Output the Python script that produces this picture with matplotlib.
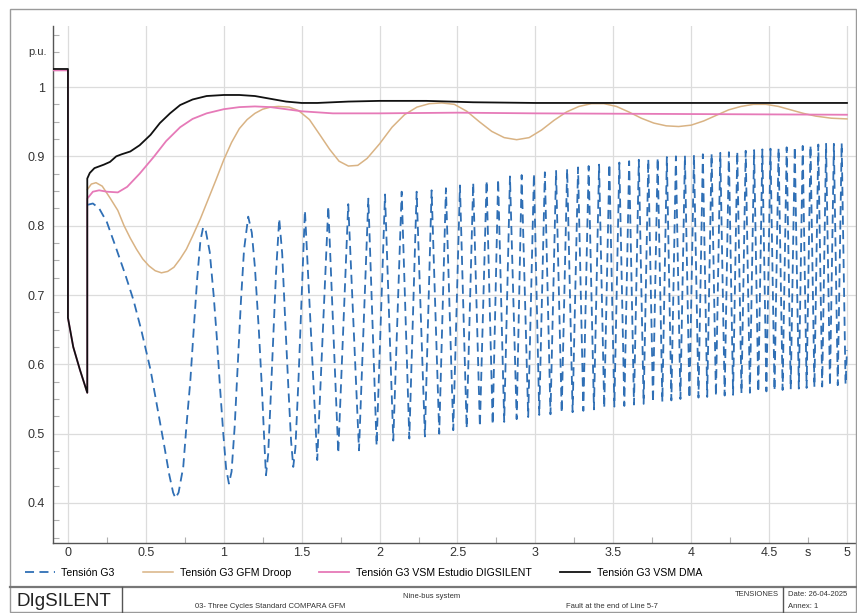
import matplotlib
matplotlib.use('Agg')
import matplotlib.pyplot as plt
from matplotlib.lines import Line2D
from matplotlib.patches import Rectangle
import matplotlib.transforms as mtrans
from matplotlib.ticker import MultipleLocator

plt.rcParams['font.family'] = ['Liberation Sans', 'DejaVu Sans']

# ---------------- data ----------------
# Tension G3 VSM DMA (black)
black_t = [-0.1, 0.0, 0.0, 0.034, 0.077, 0.124, 0.124, 0.14, 0.17, 0.23, 0.27, 0.31, 0.345,
           0.40, 0.46, 0.53, 0.59, 0.655, 0.72, 0.80, 0.89, 1.0, 1.1, 1.2, 1.3, 1.4, 1.5,
           1.6, 1.8, 2.0, 2.3, 2.6, 3.0, 4.0, 5.0]
black_v = [1.026, 1.026, 0.667, 0.625, 0.592, 0.559, 0.868, 0.876, 0.883, 0.888, 0.892, 0.900, 0.903,
           0.907, 0.916, 0.931, 0.948, 0.962, 0.974, 0.982, 0.987, 0.9885, 0.9885, 0.987, 0.983, 0.979, 0.977,
           0.977, 0.979, 0.980, 0.980, 0.978, 0.977, 0.977, 0.977]

# Tension G3 VSM Estudio DIGSILENT (pink)
pink_t = [-0.1, 0.0, 0.0, 0.034, 0.077, 0.124, 0.124, 0.16, 0.20, 0.25, 0.32, 0.38, 0.46, 0.55,
          0.63, 0.72, 0.80, 0.89, 1.0, 1.1, 1.2, 1.3, 1.4, 1.5, 1.7, 2.0, 2.5, 3.0, 4.0, 5.0]
pink_v = [1.024, 1.024, 0.667, 0.625, 0.592, 0.559, 0.839, 0.849, 0.851, 0.849, 0.848, 0.856, 0.875, 0.899,
          0.922, 0.942, 0.954, 0.962, 0.968, 0.971, 0.972, 0.971, 0.968, 0.965, 0.962, 0.962, 0.963, 0.962, 0.961, 0.960]

# Tension G3 GFM Droop (tan)
tan_t = [0.124, 0.15, 0.18, 0.22, 0.27, 0.32, 0.36, 0.40, 0.44, 0.48, 0.52, 0.56, 0.60, 0.64, 0.68,
         0.72, 0.76, 0.80, 0.85, 0.90, 0.95, 1.00, 1.05, 1.10, 1.15, 1.20, 1.25, 1.30, 1.35, 1.42,
         1.48, 1.55, 1.62, 1.68, 1.74, 1.80, 1.86, 1.92, 2.00, 2.08, 2.16, 2.24, 2.32, 2.40, 2.48,
         2.56, 2.64, 2.72, 2.80, 2.88, 2.96, 3.04, 3.12, 3.20, 3.28, 3.36, 3.44, 3.52, 3.60, 3.68,
         3.76, 3.84, 3.92, 4.00, 4.08, 4.16, 4.24, 4.32, 4.40, 4.48, 4.56, 4.64, 4.72, 4.80, 4.90, 5.00]
tan_v = [0.852, 0.860, 0.862, 0.857, 0.840, 0.822, 0.800, 0.782, 0.766, 0.752, 0.742, 0.735, 0.732, 0.734, 0.740,
         0.752, 0.766, 0.785, 0.810, 0.838, 0.866, 0.895, 0.920, 0.940, 0.953, 0.962, 0.968, 0.971, 0.972, 0.971,
         0.966, 0.953, 0.930, 0.910, 0.893, 0.886, 0.887, 0.897, 0.918, 0.942, 0.960, 0.971, 0.976, 0.977, 0.975,
         0.965, 0.950, 0.936, 0.927, 0.924, 0.927, 0.938, 0.952, 0.964, 0.972, 0.976, 0.976, 0.972, 0.964, 0.955,
         0.948, 0.944, 0.943, 0.945, 0.951, 0.959, 0.967, 0.972, 0.975, 0.975, 0.972, 0.967, 0.962, 0.958, 0.955, 0.954]

# Tension G3 (blue dashed) - first swings
blue_t = [0.124, 0.16, 0.20, 0.25, 0.31, 0.37, 0.42, 0.47, 0.53, 0.58, 0.62, 0.65, 0.675, 0.69, 0.71,
          0.74, 0.76, 0.785, 0.81, 0.83, 0.85, 0.868, 0.885, 0.91, 0.935, 0.955, 0.975, 0.997, 1.015,
          1.033, 1.05, 1.07, 1.09, 1.11, 1.13, 1.157, 1.18, 1.20, 1.225, 1.245, 1.26, 1.271, 1.285,
          1.30, 1.32, 1.335, 1.356, 1.375, 1.395, 1.415, 1.432, 1.446, 1.46, 1.48, 1.50, 1.521]
blue_v = [0.830, 0.832, 0.825, 0.805, 0.767, 0.728, 0.693, 0.650, 0.592, 0.530, 0.480, 0.441, 0.415, 0.407, 0.415,
          0.452, 0.510, 0.575, 0.660, 0.725, 0.778, 0.798, 0.792, 0.762, 0.700, 0.640, 0.570, 0.500, 0.450,
          0.428, 0.445, 0.510, 0.600, 0.690, 0.765, 0.813, 0.790, 0.740, 0.650, 0.565, 0.490, 0.440, 0.470,
          0.545, 0.650, 0.730, 0.810, 0.760, 0.660, 0.565, 0.490, 0.452, 0.480, 0.580, 0.700, 0.822]

# Tension G3 (blue dashed) - fast swings: successive troughs / peaks
swing_t = [1.600, 1.671, 1.735, 1.799, 1.868, 1.928, 1.981, 2.035, 2.088, 2.142, 2.191, 2.238, 2.291, 2.334,
           2.383, 2.426, 2.473, 2.516, 2.559, 2.601, 2.644, 2.687, 2.726, 2.761, 2.800, 2.837, 2.880, 2.912,
           2.954, 2.991, 3.025, 3.061, 3.097, 3.133, 3.169, 3.204, 3.239, 3.274, 3.308, 3.342, 3.376, 3.409,
           3.442, 3.475, 3.507, 3.539, 3.571, 3.602, 3.633, 3.664, 3.695, 3.725, 3.755, 3.785, 3.815, 3.844,
           3.873, 3.902, 3.931, 3.960, 3.989, 4.018, 4.047, 4.075, 4.103, 4.131, 4.159, 4.187, 4.215, 4.242,
           4.269, 4.296, 4.323, 4.350, 4.377, 4.404, 4.431, 4.457, 4.483, 4.509, 4.535, 4.561, 4.587, 4.613,
           4.639, 4.665, 4.691, 4.716, 4.741, 4.766, 4.791, 4.816, 4.841, 4.866, 4.891, 4.916, 4.941, 4.966,
           4.991, 5.000]
swing_v = [0.462, 0.828, 0.472, 0.831, 0.476, 0.839, 0.483, 0.845, 0.490, 0.849, 0.493, 0.849, 0.496, 0.851,
           0.500, 0.854, 0.505, 0.858, 0.508, 0.862, 0.510, 0.865, 0.513, 0.867, 0.517, 0.871, 0.521, 0.873,
           0.524, 0.875, 0.527, 0.877, 0.528, 0.879, 0.530, 0.882, 0.531, 0.884, 0.533, 0.886, 0.535, 0.888,
           0.537, 0.889, 0.539, 0.891, 0.540, 0.893, 0.542, 0.895, 0.543, 0.896, 0.545, 0.898, 0.546, 0.899,
           0.548, 0.900, 0.550, 0.901, 0.551, 0.902, 0.552, 0.903, 0.553, 0.904, 0.554, 0.905, 0.555, 0.906,
           0.556, 0.907, 0.558, 0.908, 0.559, 0.909, 0.560, 0.910, 0.561, 0.911, 0.562, 0.912, 0.563, 0.913,
           0.564, 0.914, 0.565, 0.915, 0.566, 0.916, 0.567, 0.917, 0.568, 0.918, 0.569, 0.918, 0.570, 0.919,
           0.571, 0.620]

x_ticks = [0, 0.5, 1, 1.5, 2, 2.5, 3, 3.5, 4, 4.5, 5]
x_labels = ['0', '0.5', '1', '1.5', '2', '2.5', '3', '3.5', '4', '4.5', '5']
y_ticks = [0.4, 0.5, 0.6, 0.7, 0.8, 0.9, 1.0]
y_labels = ['0.4', '0.5', '0.6', '0.7', '0.8', '0.9', '1']

series_names = ['Tensión G3', 'Tensión G3 GFM Droop', 'Tensión G3 VSM Estudio DIGSILENT', 'Tensión G3 VSM DMA']
series_colors = ['#2f6fb5', '#d9b384', '#e67ab8', '#111111']

# ---------------- figure ----------------
W, H = 857, 613
fig = plt.figure(figsize=(W / 100, H / 100), dpi=100)
fx = lambda px: px / W
fy = lambda py: 1 - py / H

ax = fig.add_axes([fx(53), fy(543), (856 - 53) / W, (543 - 26) / H])

ax.plot(blue_t + swing_t, blue_v + swing_v, color=series_colors[0], lw=1.3,
        ls=(0, (5, 3)), label=series_names[0], zorder=3)
ax.plot(tan_t, tan_v, color=series_colors[1], lw=1.1, label=series_names[1], zorder=4)
ax.plot(pink_t, pink_v, color=series_colors[2], lw=1.3, label=series_names[2], zorder=5)
ax.plot(black_t, black_v, color=series_colors[3], lw=1.3, label=series_names[3], zorder=6)

ax.set_xlim(-0.096, 5.058)
ax.set_ylim(0.3423, 1.088)
ax.set_xticks(x_ticks)
ax.set_xticklabels(x_labels)
ax.set_yticks(y_ticks)
ax.set_yticklabels(y_labels)
ax.xaxis.set_minor_locator(MultipleLocator(0.25))
ax.yaxis.set_minor_locator(MultipleLocator(0.025))
ax.tick_params(which='major', length=0, labelsize=9, colors='#333333')
ax.tick_params(axis='y', which='major', pad=6)
ax.tick_params(axis='x', which='major', pad=3)
ax.tick_params(which='minor', direction='in', length=4, color='#b0b0b0', width=0.8)
ax.grid(which='major', color='#dcdcdc', lw=0.9)
ax.set_axisbelow(True)
for s in ['top', 'right']:
    ax.spines[s].set_visible(False)
for s in ['left', 'bottom']:
    ax.spines[s].set_color('#555555')
    ax.spines[s].set_linewidth(1.0)

bt = mtrans.blended_transform_factory(ax.transAxes, ax.transData)
ax.text(-0.0075, 1.05, 'p.u.', transform=bt, ha='right', va='center', fontsize=8, color='#333333')
bt2 = mtrans.blended_transform_factory(ax.transData, ax.transAxes)
ax.text(4.75, 0, 's', ha='center', va='top', fontsize=9, color='#333333',
        transform=bt2 + mtrans.ScaledTranslation(0, -3 / 72, fig.dpi_scale_trans))

handles = [Line2D([], [], color=series_colors[0], lw=1.3, ls=(0, (5, 3))),
           Line2D([], [], color=series_colors[1], lw=1.1),
           Line2D([], [], color=series_colors[2], lw=1.3),
           Line2D([], [], color=series_colors[3], lw=1.3)]
fig.legend(handles, series_names, loc='center left', bbox_to_anchor=(fx(25), fy(573)), ncol=4,
           frameon=False, fontsize=7.6, handlelength=2.8, handletextpad=0.65, columnspacing=2.7,
           borderaxespad=0, borderpad=0)

# ---------------- frame and title block ----------------
fig.add_artist(Rectangle((fx(10), fy(612)), (856 - 10) / W, (612 - 9) / H, transform=fig.transFigure,
                         fill=False, edgecolor='#9a9a9a', lw=1.0))
fig.add_artist(Line2D([fx(10), fx(857)], [fy(587), fy(587)], transform=fig.transFigure, color='#777777', lw=1.6))
fig.add_artist(Line2D([fx(122), fx(122)], [fy(587), fy(613)], transform=fig.transFigure, color='#555555', lw=1.0))
fig.add_artist(Line2D([fx(783), fx(783)], [fy(587), fy(613)], transform=fig.transFigure, color='#555555', lw=1.0))

fig.text(fx(17), fy(602), 'DIgSILENT', fontsize=13.5, ha='left', va='center', color='#222222')
fig.text(fx(432), fy(596), 'Nine-bus system', fontsize=5.5, ha='center', va='center', color='#333333')
fig.text(fx(270), fy(606), '03- Three Cycles Standard COMPARA GFM', fontsize=5.5, ha='center', va='center', color='#333333')
fig.text(fx(612), fy(607), 'Fault at the end of Line 5-7', fontsize=5.5, ha='center', va='center', color='#333333')
fig.text(fx(779), fy(595), 'TENSIONES', fontsize=5.5, ha='right', va='center', color='#333333')
fig.text(fx(788), fy(595), 'Date: 26-04-2025', fontsize=5.5, ha='left', va='center', color='#333333')
fig.text(fx(788), fy(607), 'Annex: 1', fontsize=5.5, ha='left', va='center', color='#333333')

fig.savefig('out.png', dpi=100)
